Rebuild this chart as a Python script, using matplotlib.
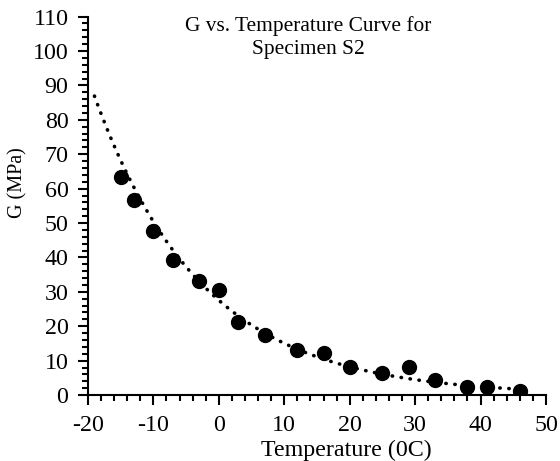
import numpy as np
import matplotlib.pyplot as plt
from matplotlib.ticker import MultipleLocator

plt.rcParams['font.family'] = ['Liberation Serif', 'DejaVu Serif']
plt.rcParams['axes.unicode_minus'] = False

# measured shear modulus vs temperature, specimen S2
temperature = [-15, -13, -10, -7, -3, 0, 3, 7, 12, 16, 20, 25, 29, 33, 38, 41, 46]
G_mpa = [63.5, 56.6, 47.6, 39.2, 33.1, 30.6, 21.1, 17.6, 13.2, 12.3, 8.1, 6.3, 8.2, 4.5, 2.3, 2.3, 1.1]

x_ticks = [-20, -10, 0, 10, 20, 30, 40, 50]
y_ticks = list(range(0, 111, 10))

T = np.array(temperature, dtype=float)
G = np.array(G_mpa, dtype=float)

# exponential trendline G = a*exp(b*T), extended 4 units backward
b, ln_a = np.polyfit(T, np.log(G), 1)
t_fit = np.linspace(T.min() - 4, T.max(), 200)
g_fit = np.exp(ln_a) * np.exp(b * t_fit)

fig = plt.figure(figsize=(5.6, 4.61), dpi=100)
ax = fig.add_axes([0.157, 0.143, 0.818, 0.821])

ax.plot(T, G, 'o', color='black', markersize=10, zorder=3)
ax.plot(t_fit, g_fit, color='black', linewidth=2.6, linestyle=(0, (0.1, 2.4)),
        dash_capstyle='round', zorder=2)

ax.set_xlim(-20, 50)
ax.set_ylim(0, 110)
ax.set_xticks(x_ticks)
ax.set_yticks(y_ticks)
ax.xaxis.set_minor_locator(MultipleLocator(2))
ax.yaxis.set_minor_locator(MultipleLocator(2))
ax.tick_params(which='major', direction='out', length=7, width=1.5, labelsize=17.3)
ax.tick_params(axis='x', which='major', pad=7)
ax.tick_params(axis='y', which='major', pad=7)
ax.tick_params(which='minor', direction='out', length=4, width=1.5)

for side in ['top', 'right']:
    ax.spines[side].set_visible(False)
for side in ['left', 'bottom']:
    ax.spines[side].set_linewidth(1.5)

ax.set_xlabel('Temperature (0C)', fontsize=17.3, va='center')
ax.set_ylabel('G (MPa)', fontsize=14.5, va='center')
ax.xaxis.set_label_coords(0.563, -0.1455)
ax.yaxis.set_label_coords(-0.153, 0.561)

fig.text(308 / 560, 1 - 37.5 / 461, 'G vs. Temperature Curve for\nSpecimen S2',
         ha='center', va='center', fontsize=15.4, linespacing=1.3)

fig.savefig('out.png', dpi=100)
